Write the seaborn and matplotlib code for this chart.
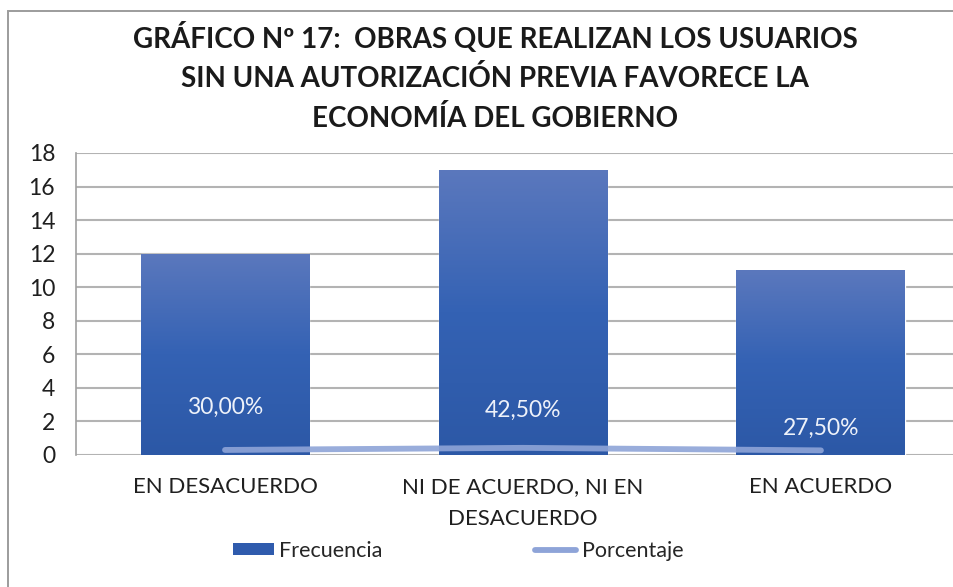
import numpy as np
import pandas as pd
import matplotlib
matplotlib.use("Agg")
import matplotlib.pyplot as plt
import seaborn as sns
from matplotlib.patches import Rectangle, Patch
from matplotlib.lines import Line2D
from matplotlib.colors import LinearSegmentedColormap

# Data
categorias = ["EN DESACUERDO", "NI DE ACUERDO, NI EN\nDESACUERDO", "EN ACUERDO"]
frecuencia = [12, 17, 11]
porcentaje = [0.30, 0.425, 0.275]
etiquetas = ["30,00%", "42,50%", "27,50%"]

titulo = ("GRÁFICO Nº 17:  OBRAS QUE REALIZAN LOS USUARIOS\n"
          "SIN UNA AUTORIZACIÓN PREVIA FAVORECE LA\n"
          "ECONOMÍA DEL GOBIERNO")

sns.set_theme(style="white")
plt.rcParams["font.family"] = ["Lato", "DejaVu Sans"]

df = pd.DataFrame({"cat": categorias, "frec": frecuencia, "pct": porcentaje})

fig = plt.figure(figsize=(9.54, 5.87), dpi=100)
ax = fig.add_axes([0.0797, 0.2249, 0.937, 0.5145])

sns.barplot(data=df, x="cat", y="frec", ax=ax, width=0.567, color="#2f5bad",
            saturation=1, zorder=2)

# gradient fill on bars
grad = LinearSegmentedColormap.from_list("g", ["#2c58a6", "#3462b4", "#5b78bd"])
for p in ax.patches:
    x0, y0 = p.get_x(), p.get_y()
    w, h = p.get_width(), p.get_height()
    img = ax.imshow(np.linspace(0, 1, 256).reshape(-1, 1), cmap=grad, origin="lower",
                    extent=[x0, x0 + w, y0, y0 + h], aspect="auto", zorder=2.1)
    img.set_clip_path(p)

sns.lineplot(data=df, x="cat", y="pct", ax=ax, sort=False, color="#8ea4d8",
             lw=4.2, alpha=0.9, zorder=3, solid_capstyle="round")

offsets = [31, 27, 16]
for i, (v, lab) in enumerate(zip(porcentaje, etiquetas)):
    ax.annotate(lab, (i, v), xytext=(0, offsets[i]), textcoords="offset points",
                ha="center", va="center", color="#eef2fa", fontsize=16.5)

ax.set_xlim(-0.5, 2.5)
ax.set_ylim(0, 18)
ax.set_yticks(range(0, 19, 2))
ax.yaxis.grid(True, color="#b3b3b3", lw=1.5, zorder=0)
ax.set_axisbelow(True)
for s in ["top", "right", "bottom"]:
    ax.spines[s].set_visible(False)
ax.spines["left"].set_color("#a0a0a0")
ax.spines["left"].set_linewidth(1.2)
ax.set_xlabel("")
ax.set_ylabel("")
ax.tick_params(axis="y", labelsize=16.5, colors="#1f1f1f", pad=15, length=0)
ax.tick_params(axis="x", labelsize=16, colors="#1f1f1f", pad=16, length=0)
for t in ax.get_xticklabels():
    t.set_linespacing(1.75)

fig.text(0.519, 0.869, titulo, ha="center", va="center", fontsize=20,
         fontweight="bold", color="#1a1a1a", linespacing=1.58)

# outer chart border
fig.patches.append(Rectangle((0.0084, -0.1), 1.2, 1.081, transform=fig.transFigure,
                             fill=False, edgecolor="#9c9c9c", lw=1.4))

handles = [Patch(facecolor="#2f5bad", edgecolor="none"),
           Line2D([0], [0], color="#8ea4d8", lw=4.2, solid_capstyle="round")]
fig.legend(handles, ["Frecuencia", "Porcentaje"], loc="center",
           bbox_to_anchor=(0.48, 0.062), ncol=2, frameon=False, fontsize=15.5,
           handlelength=1.9, handleheight=0.55, handletextpad=0.25, columnspacing=7.1)

fig.savefig("out.png", dpi=100)
